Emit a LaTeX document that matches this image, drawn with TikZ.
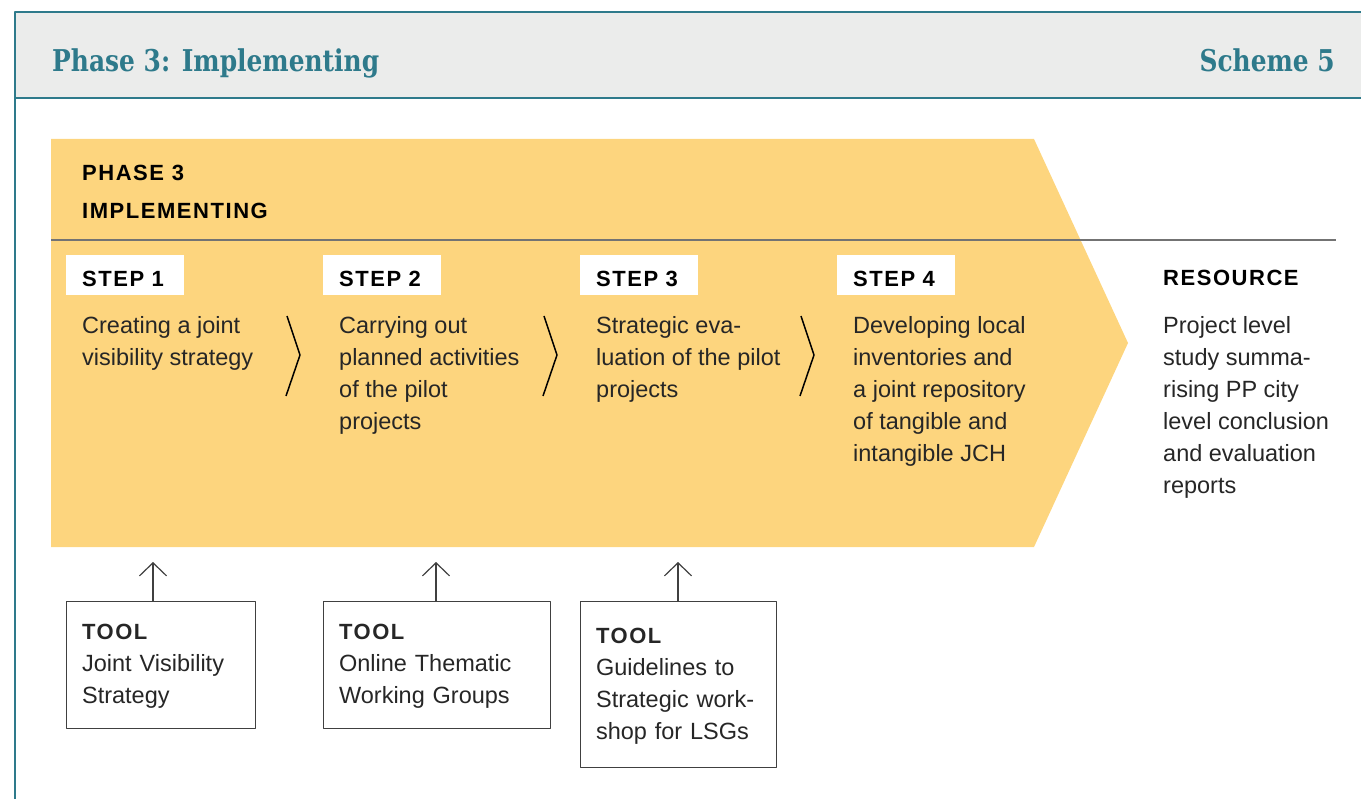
\documentclass[tikz,border=0pt]{standalone}
\usepackage{fontspec}
\setmainfont{Liberation Sans}
\newfontfamily\titlefont[FakeStretch=0.83]{DejaVu Serif}
\newfontfamily\headfont[LetterSpace=7]{Liberation Sans}
\usetikzlibrary{arrows.meta}
\definecolor{frameteal}{HTML}{2E7A8B}
\definecolor{headgray}{HTML}{EBECEB}
\definecolor{phaseyellow}{HTML}{FDD57E}
\definecolor{bodytext}{HTML}{262626}
\tikzset{
	titletext/.style={font=\titlefont\bfseries\fontsize{30}{36}\selectfont, text=frameteal, inner sep=0pt},
	headtext/.style={font=\headfont\bfseries\fontsize{22}{28}\selectfont, text=black, inner sep=0pt},
	steptext/.style={font=\fontsize{23.5}{32}\selectfont, text=bodytext, align=left, inner sep=0pt, execute at begin node=\strut},
	stepbox/.style={fill=white, headtext, inner xsep=16pt, minimum height=40pt, minimum width=118pt, text width=86pt, text height=22pt, text depth=0pt},
	toolbox/.style={draw=black!75, line width=1.2pt, steptext, inner xsep=15.5pt, inner ysep=0pt, execute at end node=\strut},
	sepline/.style={line width=1.5pt, black},
	toolarrow/.style={line width=1.2pt, black!75, -{Straight Barb[length=13pt,width=27pt,line width=1.2pt]}}
}
\newcommand\toolhead{{\headfont\bfseries\fontsize{22}{28}\selectfont TOOL}}
\begin{document}
\begin{tikzpicture}[x=1pt,y=-1pt, line join=round]
	\useasboundingbox (0,0) rectangle (1361,799);
	% header
	\fill[headgray] (15,12) rectangle (1361,98);
	\draw[frameteal, line width=2.5pt] (1361,12) -- (15,12) -- (15,799);
	\draw[frameteal, line width=2.5pt] (15,98) -- (1361,98);
	\node[titletext, anchor=base west] (title) at (52,72) {Phase 3: Implementing};
	\node[titletext, anchor=base east] (scheme) at (1335,72) {Scheme 5};
	
	% phase arrow
	\coordinate (A) at (51,139);
	\coordinate (B) at (1034,139);
	\coordinate (C) at (1128,343);
	\coordinate (D) at (1034,547);
	\coordinate (E) at (51,547);
	\fill[phaseyellow] (A) -- (B) -- (C) -- (D) -- (E) -- cycle;
	\draw[black!55, line width=1.3pt] (51,240) -- (1336,240);
	\node[headtext, anchor=base west] (phase) at (82,181) {PHASE 3};
	\node[headtext, anchor=base west] (impl) at (82,219) {IMPLEMENTING};
	
	% steps
	\foreach \i/\txt in {1/{Creating a joint\\visibility strategy},
		2/{Carrying out\\planned activities\\of the pilot\\projects},
		3/{Strategic eva-\\luation of the pilot\\projects},
		4/{Developing local\\inventories and\\a joint repository\\of tangible and\\intangible JCH}} {
		\node[stepbox, anchor=north west] (step\i) at ({66+(\i-1)*257},255) {STEP \i};
		\node[steptext, anchor=north west] (desc\i) at ({82+(\i-1)*257},316) {\txt};
	}
	\foreach \x in {287,544,801}
		\draw[sepline] (\x,316) -- (\x+13,355) -- (\x-1,396);
	
	% resource
	\node[headtext, anchor=base west] (reshead) at (1163,286) {RESOURCE};
	\node[steptext, anchor=north west] (resdesc) at (1163,316) {Project level\\study summa-\\rising PP city\\level conclusion\\and evaluation\\reports};
	
	% tools
	\node[toolbox, text width=158pt, minimum height=127pt, anchor=north west] (tool1) at (66,601) {\toolhead\\Joint Visibility\\Strategy};
	\node[toolbox, text width=196pt, minimum height=127pt, anchor=north west] (tool2) at (323,601) {\toolhead\\Online Thematic\\Working Groups};
	\node[toolbox, text width=165pt, minimum height=166pt, anchor=north west] (tool3) at (580,601) {\toolhead\\Guidelines to\\Strategic work-\\shop for LSGs};
	\coordinate (tip1) at (153,562);
	\coordinate (tip2) at (436,562);
	\coordinate (tip3) at (678,562);
	\foreach \i in {1,2,3}
		\draw[toolarrow] (tool\i.north -| tip\i) -- (tip\i);
\end{tikzpicture}
\end{document}
